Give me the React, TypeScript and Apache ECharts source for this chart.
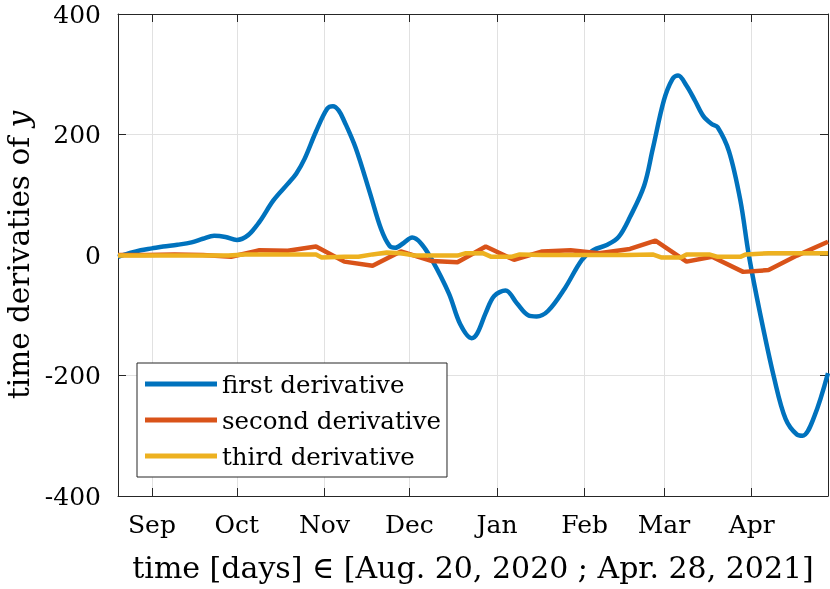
import React, { useEffect, useRef } from "react";
import * as echarts from "echarts";

// days counted from Aug. 20, 2020
const firstDays = [0, 4, 8, 12, 16, 21, 26, 30, 34, 38, 42, 46, 50, 55, 60, 63, 66, 70, 74, 76, 78, 80, 84, 89, 93, 96, 98, 101, 104, 107, 111, 117, 121, 125, 127, 130, 133, 137, 141, 145, 148, 152, 158, 164, 168, 173, 177, 181, 186, 189, 193, 196, 198, 201, 204, 207, 210, 212, 216, 220, 223, 227, 232, 236, 240, 242, 246, 251];
const firstValues = [-3, 3, 8, 11, 14, 17, 21, 27, 32, 30, 25, 33, 55, 91, 118, 135, 160, 205, 243, 247, 240, 222, 178, 104, 43, 15, 12, 20, 29, 20, -8, -64, -115, -138, -130, -96, -68, -59, -80, -100, -102, -93, -55, -8, 8, 17, 30, 63, 115, 175, 257, 292, 298, 281, 256, 230, 217, 212, 172, 91, 0, -97, -205, -272, -298, -300, -270, -196];

const secondDays = [0, 10, 20, 30, 40, 50, 60, 70, 80, 90, 100, 111, 120, 130, 140, 150, 160, 170, 181, 190, 201, 210, 221, 230, 240, 251];
const secondValues = [0, 0, 1, 0, -3, 8, 7, 14, -11, -18, 6, -10, -12, 14, -8, 6, 8, 3, 10, 24, -11, -3, -28, -25, -1, 22];

const thirdDays = [0, 10, 20, 30, 39, 45, 55, 65, 70, 72, 80, 85, 90, 95, 100, 105, 110, 120, 123, 129, 132, 139, 142, 150, 160, 170, 180, 189, 192, 199, 201, 209, 212, 220, 222, 230, 240, 251];
const thirdValues = [-1, -1, -1, -1, -1, 1, 1, 1, 1, -4, -3, -3, 1, 4, 3, -1, -1, -1, 3, 3, -3, -3, 1, 0, 0, 0, 0, 1, -4, -4, 1, 1, -3, -3, 1, 3, 3, 3];

const monthNames = ["Jan", "Feb", "Mar", "Apr", "May", "Jun", "Jul", "Aug", "Sep", "Oct", "Nov", "Dec"];
const seriesNames = ["first derivative", "second derivative", "third derivative"];
const seriesColors = ["#0072BD", "#D95319", "#EDB120"];
const yTicks = { min: -400, max: 400, step: 200 };
const xTitle = "time [days] \u2208 [Aug. 20, 2020 ; Apr. 28, 2021]";

const DAY = 86400000;
const startTime = new Date(2020, 7, 20).getTime();
const endTime = new Date(2021, 3, 28).getTime();
const toTime = (d: number) => new Date(2020, 7, 20 + d).getTime();
const FONT = "DejaVu Serif";
const AX = "#262626";
const GRID = "#e1e1e1";

export default function App() {
  const ref = useRef<HTMLDivElement>(null);
  useEffect(() => {
    if (!ref.current) return;
    const chart = echarts.init(ref.current, null, { renderer: "svg" });
    const mk = (days: number[], vals: number[]) => days.map((d, i) => [toTime(d), vals[i]]);
    const xCommon = {
      type: "time",
      min: startTime,
      max: endTime,
      splitNumber: 8,
      minInterval: 28 * DAY,
      maxInterval: 31 * DAY,
    };
    const tick = { show: true, inside: true, length: 8, lineStyle: { color: AX, width: 1 } };
    const line = { show: true, onZero: false, lineStyle: { color: AX, width: 1 } };
    chart.setOption({
      animation: false,
      grid: { left: 118, right: 2, top: 14, bottom: 93, containLabel: false, outerBoundsMode: "none" },
      legend: {
        orient: "vertical",
        left: 137,
        top: 363,
        icon: "rect",
        itemWidth: 72,
        itemHeight: 5,
        itemGap: 6,
        padding: [6, 6, 6, 8],
        borderColor: AX,
        borderWidth: 1,
        backgroundColor: "#fff",
        textStyle: { fontFamily: FONT, fontSize: 24.5, color: "#000", lineHeight: 30 },
        data: seriesNames,
      },
      xAxis: [
        {
          ...xCommon,
          position: "bottom",
          axisLine: line,
          axisTick: tick,
          axisLabel: {
            fontFamily: FONT,
            fontSize: 25,
            color: "#000",
            margin: 16,
            formatter: (v: number) => monthNames[new Date(v).getMonth()],
          },
          splitLine: { show: true, lineStyle: { color: GRID, width: 1 } },
          name: xTitle,
          nameLocation: "middle",
          nameGap: 56,
          nameTextStyle: { fontFamily: FONT, fontSize: 30, color: "#000" },
        },
        {
          ...xCommon,
          position: "top",
          axisLine: line,
          axisTick: tick,
          axisLabel: { show: false },
          splitLine: { show: false },
        },
      ],
      yAxis: [
        {
          type: "value",
          min: yTicks.min,
          max: yTicks.max,
          interval: yTicks.step,
          position: "left",
          axisLine: line,
          axisTick: tick,
          axisLabel: { fontFamily: FONT, fontSize: 25, color: "#000", margin: 17 },
          splitLine: { show: true, lineStyle: { color: GRID, width: 1 } },
          name: "time derivaties of {i|y}",
          nameLocation: "middle",
          nameGap: 83,
          nameTextStyle: {
            fontFamily: FONT,
            fontSize: 29.5,
            color: "#000",
            rich: { i: { fontFamily: FONT, fontSize: 29.5, fontStyle: "italic", color: "#000" } },
          },
        },
        {
          type: "value",
          min: yTicks.min,
          max: yTicks.max,
          interval: yTicks.step,
          position: "right",
          axisLine: line,
          axisTick: tick,
          axisLabel: { show: false },
          splitLine: { show: false },
        },
      ],
      series: [
        {
          name: seriesNames[0],
          type: "line",
          data: mk(firstDays, firstValues),
          smooth: 0.35,
          symbol: "none",
          color: seriesColors[0],
          lineStyle: { width: 4.5, color: seriesColors[0] },
        },
        {
          name: seriesNames[1],
          type: "line",
          data: mk(secondDays, secondValues),
          symbol: "none",
          color: seriesColors[1],
          lineStyle: { width: 4.5, color: seriesColors[1] },
        },
        {
          name: seriesNames[2],
          type: "line",
          data: mk(thirdDays, thirdValues),
          symbol: "none",
          color: seriesColors[2],
          lineStyle: { width: 4.5, color: seriesColors[2] },
        },
      ],
    });
    return () => chart.dispose();
  }, []);
  return <div ref={ref} style={{ position: "fixed", left: 0, top: 0, width: 830, height: 589 }} />;
}
